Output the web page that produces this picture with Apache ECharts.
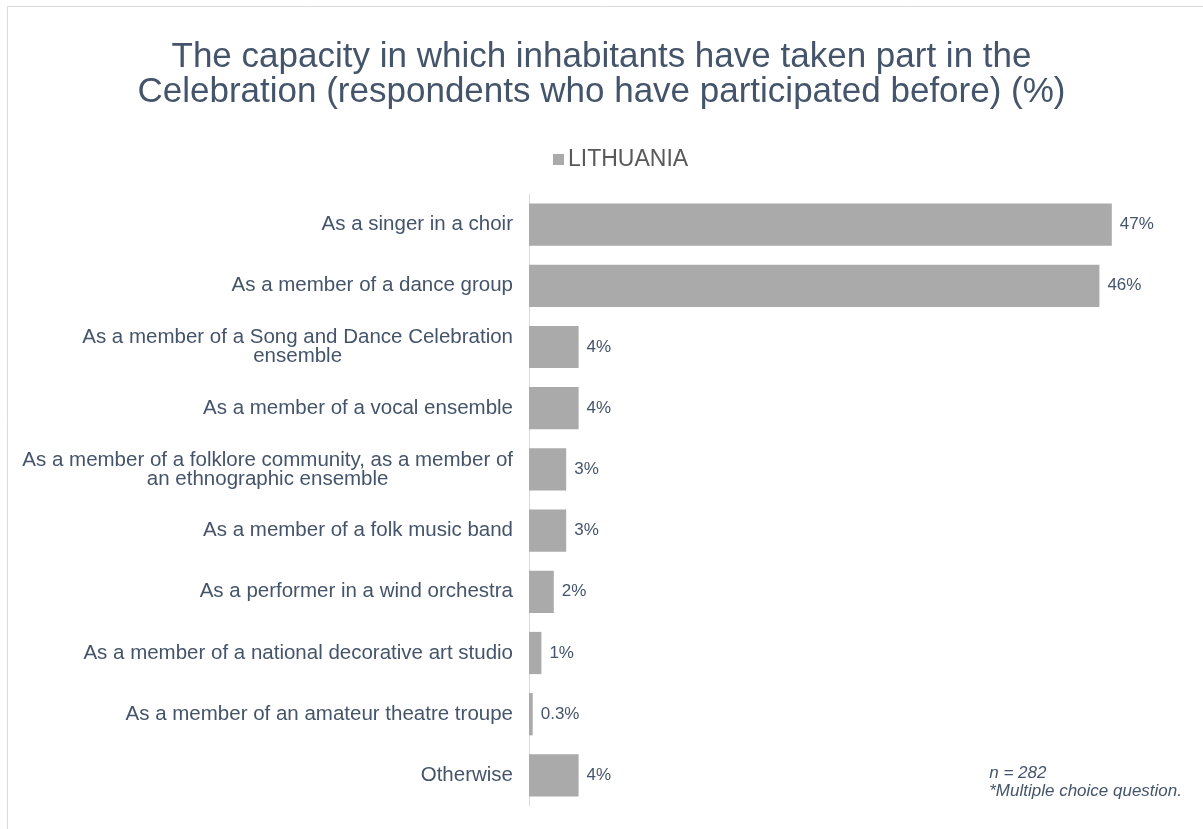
<!DOCTYPE html>
<html>
<head>
<meta charset="utf-8">
<script src="https://cdn.jsdelivr.net/npm/echarts@6/dist/echarts.min.js"></script>
<style>
  html, body { margin: 0; padding: 0; background: #ffffff; }
  #chart { width: 1203px; height: 829px; }
</style>
</head>
<body>
<div id="chart"></div>
<script>
// Survey answers, top to bottom
const categories = [
  'As a singer in a choir',
  'As a member of a dance group',
  'As a member of a Song and Dance Celebration\nensemble',
  'As a member of a vocal ensemble',
  'As a member of a folklore community, as a member of\nan ethnographic ensemble',
  'As a member of a folk music band',
  'As a performer in a wind orchestra',
  'As a member of a national decorative art studio',
  'As a member of an amateur theatre troupe',
  'Otherwise'
];
// Share of respondents (%)
const lithuania = [47, 46, 4, 4, 3, 3, 2, 1, 0.3, 4];
const seriesName = 'LITHUANIA';
const footnoteLines = ['n = 282', '*Multiple choice question.'];

const textColor = '#44546a';
const legendColor = '#595959';
const barColor = '#aaaaaa';
const fontFamily = '"Liberation Sans", Arial, Helvetica, sans-serif';

const chart = echarts.init(document.getElementById('chart'));
chart.setOption({
  animation: false,
  backgroundColor: '#ffffff',
  textStyle: { fontFamily: fontFamily },
  title: {
    text: 'The capacity in which inhabitants have taken part in the\nCelebration (respondents who have participated before) (%)',
    left: 'center',
    top: 35,
    textStyle: {
      fontFamily: fontFamily,
      fontSize: 35,
      fontWeight: 'normal',
      color: textColor,
      lineHeight: 35
    }
  },
  legend: {
    data: [seriesName],
    left: 548,
    top: 143,
    icon: 'rect',
    itemWidth: 11,
    itemHeight: 11,
    itemGap: 4,
    textStyle: { fontFamily: fontFamily, fontSize: 23, color: legendColor, padding: [0, 0, 0, -1] }
  },
  grid: {
    left: 529,
    top: 194,
    bottom: 23,
    width: 620,
    containLabel: false
  },
  xAxis: {
    type: 'value',
    min: 0,
    max: 50,
    show: false
  },
  yAxis: {
    type: 'category',
    data: categories,
    inverse: true,
    axisLine: { show: true, lineStyle: { color: '#d9d9d9', width: 1 } },
    axisTick: { show: false },
    axisLabel: {
      margin: 16,
      color: textColor,
      fontSize: 20.5,
      fontFamily: fontFamily,
      formatter: function (v) {
        return v.split('\n').map(function (s) { return '{c|' + s + '}'; }).join('\n');
      },
      rich: {
        c: { align: 'center', fontSize: 20.5, lineHeight: 19, color: textColor, fontFamily: fontFamily }
      }
    }
  },
  series: [{
    name: seriesName,
    type: 'bar',
    data: lithuania,
    barCategoryGap: '31%',
    itemStyle: { color: barColor },
    label: {
      show: true,
      position: 'right',
      distance: 8,
      color: textColor,
      fontSize: 17,
      fontFamily: fontFamily,
      formatter: function (p) { return p.value + '%'; }
    }
  }],
  graphic: [
    {
      type: 'rect',
      shape: { x: 7.5, y: 6.5, width: 1220, height: 840 },
      style: { fill: 'none', stroke: '#d9d9d9', lineWidth: 1 },
      silent: true,
      z: -10
    },
    {
      type: 'text',
      right: 21,
      top: 764,
      style: {
        text: footnoteLines.join('\n'),
        align: 'right',
        fill: textColor,
        font: 'italic 17px ' + fontFamily,
        lineHeight: 18
      }
    }
  ]
});
</script>
</body>
</html>
